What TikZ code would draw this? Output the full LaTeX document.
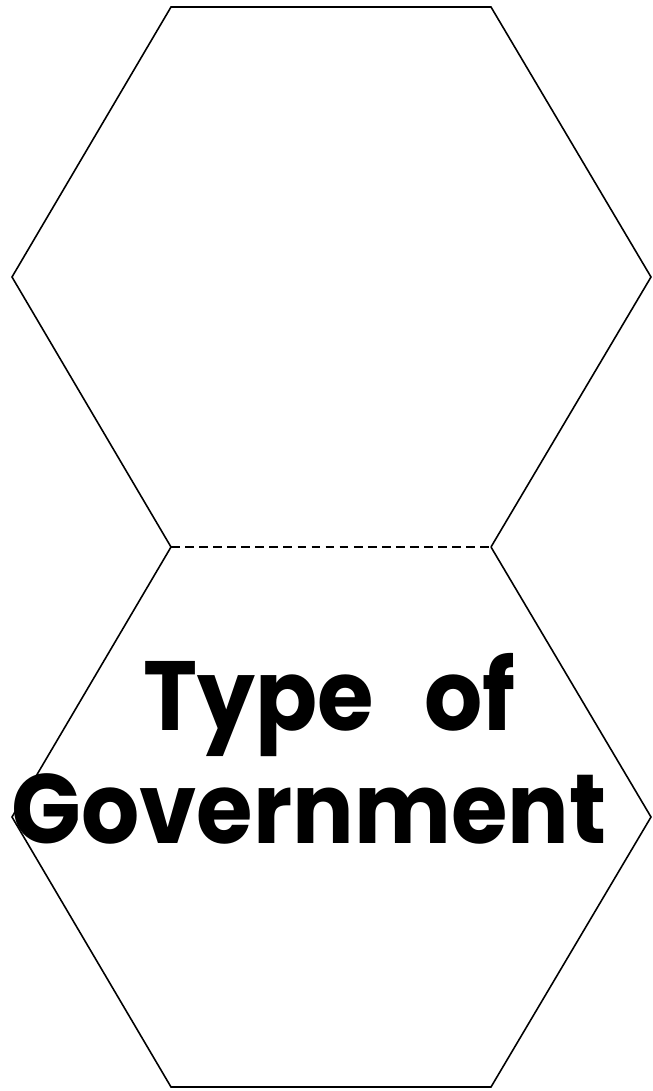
\documentclass[tikz,border=0pt]{standalone}
\usepackage{fontspec}
\setsansfont{Poppins}
\usetikzlibrary{calc}
\definecolor{ink}{HTML}{000000}
\tikzset{
  hexline/.style={draw=ink,line width=0.9pt,line join=miter},
  foldline/.style={draw=ink,line width=0.9pt,dash pattern=on 5pt off 3pt},
  title/.style={text=ink,font=\sffamily\bfseries\fontsize{56}{64}\selectfont,
                anchor=base,inner sep=0pt,xscale=0.93,transform shape}
}
% one hexagon with the edge at the fold left open
\newcommand{\hexcell}[2]{%
  \coordinate (#1a) at (3.42,#2);
  \coordinate (#1b) at (9.82,#2);
  \coordinate (#1c) at (13.02,{#2-5.4});
  \coordinate (#1d) at (9.82,{#2-10.8});
  \coordinate (#1e) at (3.42,{#2-10.8});
  \coordinate (#1f) at (0.24,{#2-5.4});}

\begin{document}
\begin{tikzpicture}[font=\sffamily]
  \useasboundingbox (0,0) rectangle (13.06,-21.82);

  \hexcell{up}{-0.14}
  \hexcell{lo}{-10.94}

  \draw[hexline] (upe) -- (upf) -- (upa) -- (upb) -- (upc) -- (upd);
  \draw[hexline] (lob) -- (loc) -- (lod) -- (loe) -- (lof) -- (loa);
  \draw[foldline] (loa) -- (lob);

  \node[title] (typeof) at (6.59,-14.6) {Type\hspace{0.55em}of};
  \node[title] (govern) at (6.18,-16.86) {Government};
\end{tikzpicture}
\end{document}
